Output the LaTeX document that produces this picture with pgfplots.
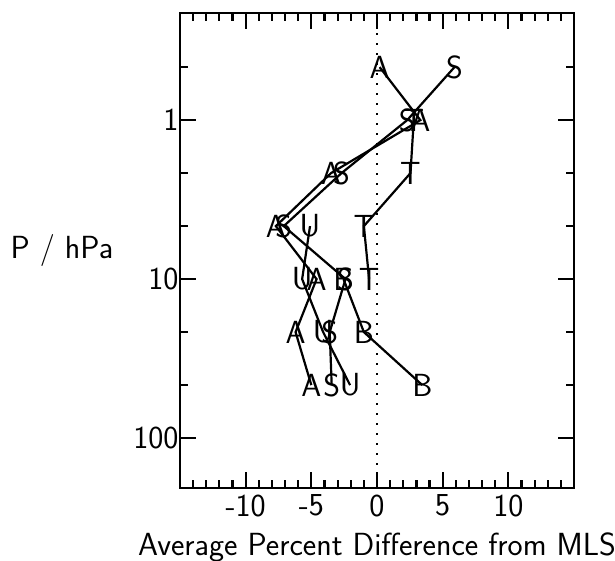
\documentclass[border=0pt]{standalone}
\usepackage{fontspec}
\usepackage{pgfplots}
\pgfplotsset{compat=1.18}
\newcommand{\bigsf}{\sffamily\fontsize{32}{36}\selectfont}
\begin{document}
\begin{tikzpicture}
\useasboundingbox (-180pt,-72pt) rectangle (435pt,488pt);
\begin{axis}[
  at={(0pt,0pt)}, anchor=south west,
  scale only axis, width=394pt, height=475pt,
  xmin=-15, xmax=15,
  ymode=log, ymin=0.212, ymax=206, y dir=reverse,
  xtick={-15,-10,-5,0,5,10,15},
  xticklabels={,-10,-5,0,5,10,},
  minor xtick={-14,-13,-12,-11,-9,-8,-7,-6,-4,-3,-2,-1,1,2,3,4,6,7,8,9,11,12,13,14},
  ytick={1,10,100},
  yticklabels={1,10,100},
  minor ytick={0.4642,2.154,4.642,21.54,46.42},
  tick align=inside,
  major tick length=16pt, minor tick length=8pt,
  every tick/.style={black, line width=2.2pt},
  axis line style={line width=2.6pt},
  /pgf/number format/assume math mode=true,
  ticklabel style={font=\bigsf},
  xticklabel style={yshift=-3pt},
  yticklabel style={xshift=2pt},
  xlabel={Average Percent Difference from MLS},
  ylabel={P / hPa},
  every axis x label/.style={at={(rel axis cs:0.5,0)}, anchor=center, yshift=-59pt, font=\bigsf},
  every axis y label/.style={at={(rel axis cs:0,0.5)}, anchor=center, xshift=-118pt, font=\bigsf},
  clip=false,
  every axis plot/.append style={black, line width=2.2pt,
    text mark as node=true,
    text mark style={font=\bigsf, inner sep=0pt, anchor=center}},
]
% zero line
\addplot[dotted, line width=2pt, dash pattern=on 2pt off 8pt] coordinates {(0,0.212) (0,206)};
% A
\addplot[mark=text, text mark=A] coordinates {
  (0.2,0.4642) (3.3,1) (-3.5,2.154) (-7.7,4.642) (-4.6,10) (-6.2,21.54) (-5.0,46.42)};
% S
\addplot[mark=text, text mark=S] coordinates {
  (5.9,0.4642) (2.3,1) (-2.7,2.154) (-7.1,4.642) (-2.4,10) (-3.6,21.54) (-3.45,46.42)};
% U
\addplot[mark=text, text mark=U] coordinates {
  (-5.1,4.642) (-5.7,10) (-4.1,21.54) (-2.05,46.42)};
% B
\addplot[mark=text, text mark=B] coordinates {
  (-2.55,10) (-1.0,21.54) (3.45,46.42)};
% T
\addplot[mark=text, text mark=T] coordinates {
  (2.8,1) (2.55,2.154) (-1.0,4.642) (-0.6,10)};
\end{axis}
\end{tikzpicture}
\end{document}
